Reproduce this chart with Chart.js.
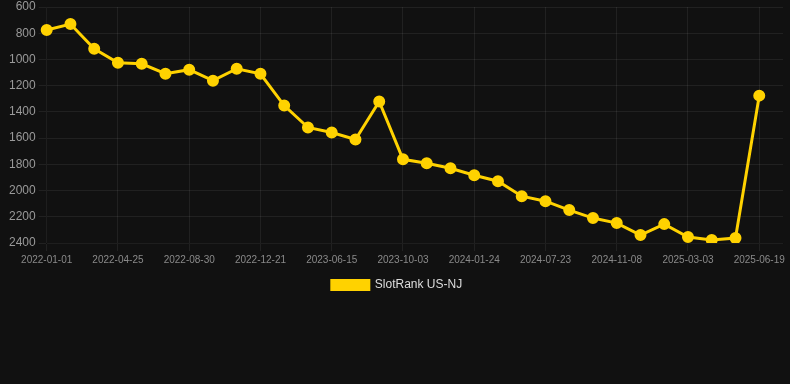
<!DOCTYPE html>
<html>
<head>
<meta charset="utf-8">
<script src="https://cdn.jsdelivr.net/npm/chart.js@4.4.1/dist/chart.umd.min.js"></script>
<style>
  html, body { margin: 0; padding: 0; background: #111111; }
  #wrap { position: relative; width: 790px; height: 301px; }
</style>
</head>
<body>
<div id="wrap"><canvas id="rankChart"></canvas></div>
<script>
// dates on the x axis (last one has no value yet)
const dates = [
  "2022-01-01", "2022-02-08", "2022-03-18", "2022-04-25", "2022-06-05",
  "2022-07-17", "2022-08-30", "2022-10-06", "2022-11-13", "2022-12-21",
  "2023-02-18", "2023-04-17", "2023-06-15", "2023-07-21", "2023-08-27",
  "2023-10-03", "2023-11-09", "2023-12-17", "2024-01-24", "2024-03-24",
  "2024-05-23", "2024-07-23", "2024-08-27", "2024-10-02", "2024-11-08",
  "2024-12-15", "2025-01-24", "2025-03-03", "2025-04-10", "2025-05-15",
  "2025-06-19", "2025-07-24"
];

// rank values
const rankNJ = [
  775, 730, 919, 1025, 1033, 1109, 1078, 1162, 1071, 1109,
  1352, 1519, 1557, 1610, 1321, 1762, 1792, 1830, 1883, 1929,
  2043, 2081, 2149, 2210, 2248, 2339, 2256, 2354, 2377, 2362,
  1276, null
];

const yTicks = [600, 800, 1000, 1200, 1400, 1600, 1800, 2000, 2200, 2400];
const labelEvery = 3;

const gridColor = "rgba(255,255,255,0.07)";

new Chart(document.getElementById("rankChart"), {
  type: "line",
  data: {
    labels: dates,
    datasets: [{
      label: "SlotRank US-NJ",
      data: rankNJ,
      borderColor: "#ffd200",
      backgroundColor: "#ffd200",
      borderWidth: 3,
      pointRadius: 5,
      pointBorderWidth: 2,
      pointBackgroundColor: "#ffd200",
      pointBorderColor: "#ffd200",
      tension: 0
    }]
  },
  options: {
    responsive: true,
    maintainAspectRatio: false,
    animation: false,
    layout: { padding: { left: 6, right: 2, top: 0, bottom: 0 } },
    scales: {
      x: {
        offset: false,
        grid: {
          color: (ctx) => (ctx.index % labelEvery === 0 ? gridColor : "transparent")
        },
        ticks: {
          autoSkip: false,
          maxRotation: 0,
          minRotation: 0,
          color: "#8a8a8a",
          font: { family: "'Liberation Sans', Arial, sans-serif", size: 10 },
          callback: function (value, index) {
            return index % labelEvery === 0 ? dates[index] : "";
          }
        }
      },
      y: {
        reverse: true,
        min: yTicks[0],
        max: yTicks[yTicks.length - 1],
        grid: { color: gridColor },
        afterBuildTicks: (axis) => {
          axis.ticks = yTicks.map((v) => ({ value: v }));
        },
        ticks: {
          color: "#9a9a9a",
          padding: 3,
          font: { family: "'Liberation Sans', Arial, sans-serif", size: 12, lineHeight: 0.6 },
          callback: (v) => String(v)
        }
      }
    },
    plugins: {
      legend: {
        position: "bottom",
        labels: {
          color: "#dddddd",
          boxWidth: 37,
          boxHeight: 9,
          font: { family: "'Liberation Sans', Arial, sans-serif", size: 12 }
        }
      },
      tooltip: { enabled: false }
    }
  }
});
</script>
</body>
</html>
